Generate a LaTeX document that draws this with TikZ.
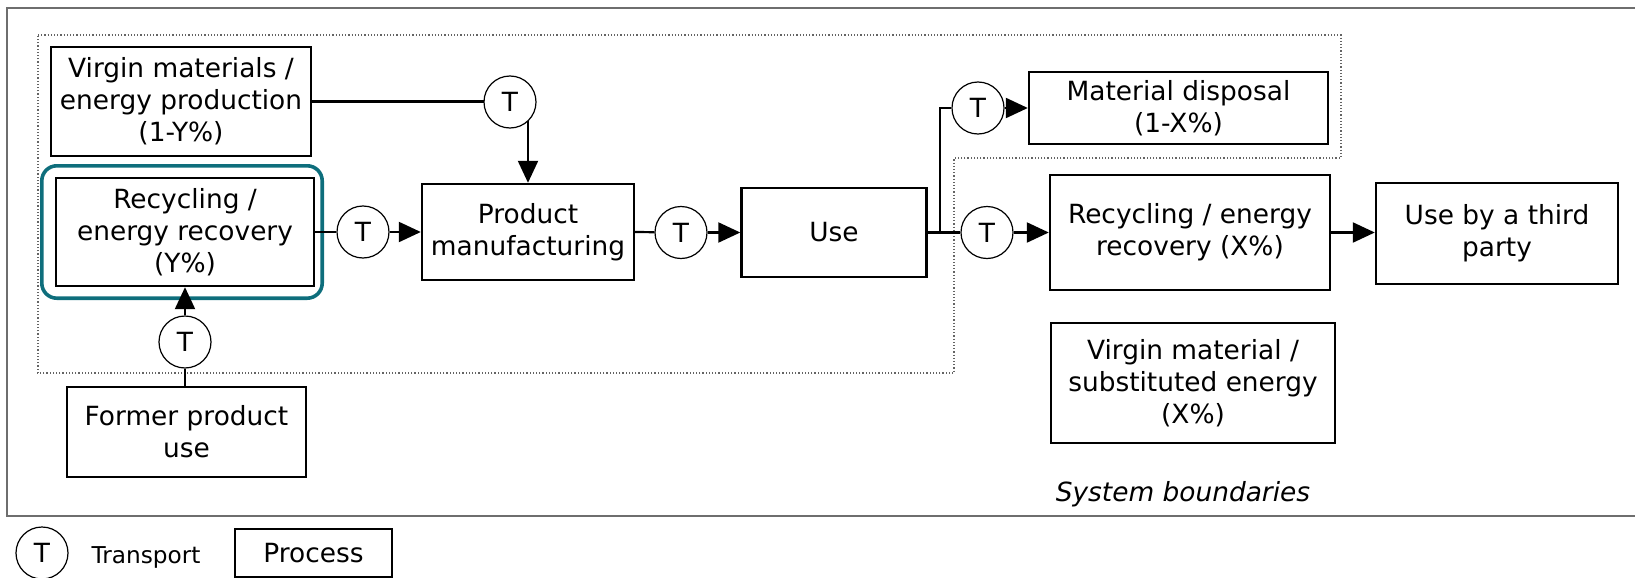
\documentclass[tikz,border=0pt]{standalone}
\usepackage{fontspec}
\setmainfont{DejaVu Sans}
\usetikzlibrary{arrows.meta,calc,backgrounds}
\definecolor{tealhl}{RGB}{14,110,124}
\definecolor{framegray}{RGB}{110,110,110}
\definecolor{dotgray}{RGB}{100,100,100}
\newcommand\boxfont{\fontsize{13.2}{16}\selectfont}
\newcommand\smallboxfont{\fontsize{11.6}{14}\selectfont}
\begin{document}
\begin{tikzpicture}[x=0.5pt,y=-0.5pt,
  box/.style={draw,line width=1.2pt,fill=white,inner sep=0pt,align=center,font=\boxfont},
  tr/.style={draw,circle,line width=0.6pt,fill=white,minimum size=26pt,inner sep=0pt,font=\boxfont},
  conn/.style={line width=1.1pt},
  arr/.style={conn,-{Triangle[length=11pt,width=10pt]}}]
\useasboundingbox (0,0) rectangle (1635,578);

% process boxes
\node[box,minimum width=130pt,minimum height=54.5pt] (virgin) at (181,101.5) {Virgin materials /\\energy production\\(1-Y\%)};
\node[box,minimum width=129pt,minimum height=54pt] (recY) at (185,232) {Recycling /\\energy recovery\\(Y\%)};
\node[box,minimum width=106pt,minimum height=48pt] (prod) at (528,232) {Product\\manufacturing};
\node[box,minimum width=92.5pt,minimum height=44.5pt] (use) at (834,232.5) {Use};
\node[box,minimum width=149.5pt,minimum height=36pt] (disp) at (1178.5,108) {Material disposal\\(1-X\%)};
\node[box,minimum width=140pt,minimum height=57.5pt] (recX) at (1190,232.5) {Recycling / energy\\recovery (X\%)};
\node[box,minimum width=121pt,minimum height=50.5pt] (third) at (1497,233.5) {Use by a third\\party};
\node[box,minimum width=142pt,minimum height=60pt] (subst) at (1193,383) {Virgin material /\\substituted energy\\(X\%)};
\node[box,minimum width=119.5pt,minimum height=45pt] (former) at (186.5,432) {Former product\\use};

% transport circles
\node[tr] (T1) at (510,102) {T};
\node[tr] (T2) at (363,232) {T};
\node[tr] (T3) at (681,232.5) {T};
\node[tr] (T4) at (978,108) {T};
\node[tr] (T5) at (987,232.5) {T};
\node[tr] (T6) at (185,342) {T};

% labels and legend
\node[font=\boxfont\itshape] (sb) at (1183,494) {System boundaries};
\node[tr] (legT) at (42,553) {T};
\node[font=\smallboxfont] (legTxt) at (146,557) {Transport};
\node[box,minimum width=78.5pt,minimum height=24pt] (legP) at (313.5,553) {Process};

\coordinate (j) at (940,232.5);

\begin{scope}[on background layer]
  \draw[framegray,line width=1pt] (1640,7.5) -- (7,7.5) -- (7,516) -- (1640,516);
  \draw[dotgray,line width=0.6pt,densely dotted] (38,35) -- (1341,35) -- (1341,158) -- (954,158) -- (954,373) -- (38,373) -- cycle;
  \draw[tealhl,line width=1.8pt,rounded corners=7.5pt] ($(recY.north west)+(-13,-11)$) rectangle ($(recY.south east)+(7,11)$);
  \draw[conn] (virgin.east) -- (virgin.east -| T1);
  \draw[arr] (T1.center -| prod.north) -- (prod.north);
  \draw[conn] (recY.east) -- (T2);
  \draw[arr] (T2) -- (T2 -| prod.west);
  \draw[conn] (prod.east) -- (T3);
  \draw[arr] (T3) -- (use.west);
  \draw[conn] (use.east) -- (T5);
  \draw[conn] (j) |- (T4);
  \draw[arr] (T4) -- (disp.west);
  \draw[arr] (T5) -- (recX.west);
  \draw[arr] (recX.east) -- (recX.east -| third.west);
  \draw[conn] (T6 |- former.north) -- (T6);
  \draw[arr] (T6) -- (T6 |- recY.south);
\end{scope}
\end{tikzpicture}
\end{document}
